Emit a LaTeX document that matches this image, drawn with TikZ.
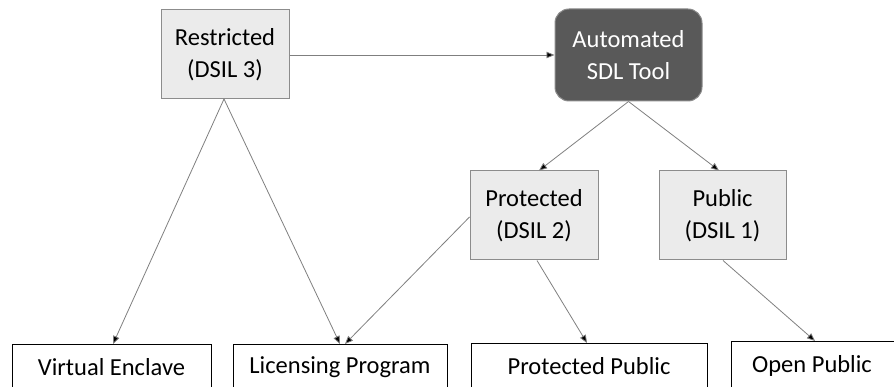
\documentclass[tikz,border=0pt]{standalone}
\usepackage{fontspec}
\setmainfont{Carlito}
\usetikzlibrary{arrows.meta}
\definecolor{boxfill}{HTML}{EBEBEB}
\definecolor{boxline}{HTML}{8C8C8C}
\definecolor{darkfill}{HTML}{595959}
\definecolor{linkgray}{HTML}{7F7F7F}
\tikzset{
  bigfont/.style={font=\fontsize{24.5}{32}\selectfont},
  graybox/.style={draw=boxline, fill=boxfill, line width=1pt, align=center,
    bigfont, inner sep=0pt},
  darkbox/.style={draw=boxline, fill=darkfill, text=white, rounded corners=14pt,
    line width=1pt, align=center, bigfont, inner sep=0pt},
  outbox/.style={draw=black, fill=white, line width=1pt, inner sep=0pt,
    bigfont, anchor=north},
  link/.style={draw=linkgray, line width=0.8pt,
    -{Triangle[length=8pt,width=6.5pt,fill=black]}},
}
\begin{document}
\begin{tikzpicture}[x=1pt,y=-1pt]
\useasboundingbox (0,0) rectangle (894,387);
\clip (0,0) rectangle (894,387);
\node[graybox, minimum width=128pt, minimum height=89pt] (restricted) at (225,54.5) {Restricted\\(DSIL 3)};
\node[darkbox, minimum width=147pt, minimum height=92pt] (auto) at (628.5,55) {Automated\\SDL Tool};
\node[graybox, minimum width=128pt, minimum height=89pt] (protected) at (534,215.5) {Protected\\(DSIL 2)};
\node[graybox, minimum width=127pt, minimum height=89pt] (public) at (722.5,215.5) {Public\\(DSIL 1)};
\node[outbox, minimum width=199pt, minimum height=46pt] (ve) at (111.5,344) {Virtual Enclave};
\node[outbox, minimum width=214pt, minimum height=46pt] (lp) at (340,344) {Licensing Program};
\node[outbox, minimum width=236pt, minimum height=46pt] (pp) at (589,343) {Protected Public};
\node[outbox, minimum width=200pt, minimum height=50pt, anchor=north west] (op) at (731,341) {};
\node[bigfont] (optext) at (812,366) {Open Public};
\coordinate (rb) at (224,99);
\draw[link] (restricted.east |- 0,55) -- (auto.west |- 0,55);
\draw[link] (rb) -- (ve.north -| 113,0);
\draw[link] (rb) -- (lp.north -| 340,0);
\draw[link] (auto.south) -- (protected.north -| 539,0);
\draw[link] (auto.south) -- (public.north -| 719,0);
\draw[link] (protected.west |- 0,217) -- (lp.north -| 345,0);
\draw[link] (protected.south -| 537,0) -- (pp.north -| 587,0);
\draw[link] (public.south -| 723,0) -- (op.north -| 815,0);
\end{tikzpicture}
\end{document}
